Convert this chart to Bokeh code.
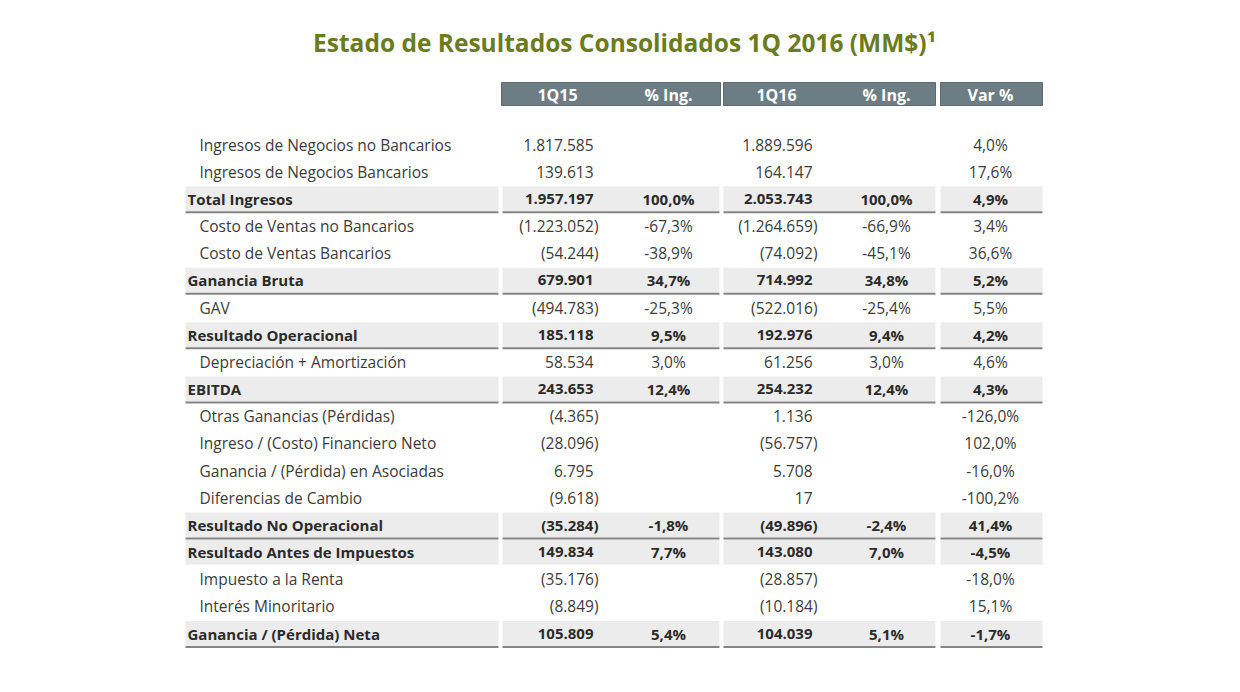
from bokeh.plotting import figure
from bokeh.models import Range1d
from bokeh.embed import file_html
from bokeh.resources import INLINE
from bokeh.core.properties import value

# ---------------- data ----------------
title = "Estado de Resultados Consolidados 1Q 2016 (MM$)¹"
headers = ["1Q15", "% Ing.", "1Q16", "% Ing.", "Var %"]

labels = [
    "Ingresos de Negocios no Bancarios",
    "Ingresos de Negocios Bancarios",
    "Total Ingresos",
    "Costo de Ventas no Bancarios",
    "Costo de Ventas Bancarios",
    "Ganancia Bruta",
    "GAV",
    "Resultado Operacional",
    "Depreciación + Amortización",
    "EBITDA",
    "Otras Ganancias (Pérdidas)",
    "Ingreso / (Costo) Financiero Neto",
    "Ganancia / (Pérdida) en Asociadas",
    "Diferencias de Cambio",
    "Resultado No Operacional",
    "Resultado Antes de Impuestos",
    "Impuesto a la Renta",
    "Interés Minoritario",
    "Ganancia / (Pérdida) Neta",
]
q15 = ["1.817.585", "139.613", "1.957.197", "(1.223.052)", "(54.244)", "679.901",
       "(494.783)", "185.118", "58.534", "243.653", "(4.365)", "(28.096)", "6.795",
       "(9.618)", "(35.284)", "149.834", "(35.176)", "(8.849)", "105.809"]
q15_pct = ["", "", "100,0%", "-67,3%", "-38,9%", "34,7%", "-25,3%", "9,5%", "3,0%",
           "12,4%", "", "", "", "", "-1,8%", "7,7%", "", "", "5,4%"]
q16 = ["1.889.596", "164.147", "2.053.743", "(1.264.659)", "(74.092)", "714.992",
       "(522.016)", "192.976", "61.256", "254.232", "1.136", "(56.757)", "5.708",
       "17", "(49.896)", "143.080", "(28.857)", "(10.184)", "104.039"]
q16_pct = ["", "", "100,0%", "-66,9%", "-45,1%", "34,8%", "-25,4%", "9,4%", "3,0%",
           "12,4%", "", "", "", "", "-2,4%", "7,0%", "", "", "5,1%"]
var_pct = ["4,0%", "17,6%", "4,9%", "3,4%", "36,6%", "5,2%", "5,5%", "4,2%", "4,6%",
           "4,3%", "-126,0%", "102,0%", "-16,0%", "-100,2%", "41,4%", "-4,5%",
           "-18,0%", "15,1%", "-1,7%"]
subtotal_rows = [2, 5, 7, 9, 14, 15, 18]
underlined_rows = [2, 5, 7, 9, 14, 18]

# ---------------- layout ----------------
FONT = value("Open Sans")
W, H = 1224, 676
p = figure(width=W, height=H, x_range=Range1d(0, W), y_range=Range1d(H, 0),
           output_backend="svg", toolbar_location=None, min_border=0)
p.xaxis.visible = False
p.yaxis.visible = False
p.xgrid.visible = False
p.ygrid.visible = False
p.outline_line_color = None
p.background_fill_color = "white"

row0, step = 144.0, 27.17
n = len(labels)
ys = [row0 + i * step for i in range(n)]

seg_l = [185, 502, 723, 940]
seg_r = [498, 719, 935, 1042]

# title
p.text(x=[624], y=[42], text=[title], text_align="center", text_baseline="middle",
       text_font=FONT, text_font_size="24.5px", text_font_style="bold",
       text_color="#6b7c1e")

# header bars
hb_l = [501, 723, 940]
hb_r = [720, 935, 1042]
p.quad(left=hb_l, right=hb_r, top=[82] * 3, bottom=[105] * 3,
       fill_color="#6d7d84", line_color="#5d6b71", line_width=1)
hx = [557, 668, 776, 886, 990]
p.text(x=hx, y=[94] * 5, text=headers, text_align="center", text_baseline="middle",
       text_font=FONT, text_font_size="16px", text_font_style="bold",
       text_color="white")

# subtotal backgrounds
bl, br, bt, bb = [], [], [], []
for i in subtotal_rows:
    for l, r in zip(seg_l, seg_r):
        bl.append(l); br.append(r); bt.append(ys[i] - 12.5); bb.append(ys[i] + 12.5)
p.quad(left=bl, right=br, top=bt, bottom=bb, fill_color="#ececec", line_color=None)

# underlines
x0, x1, yl = [], [], []
for i in underlined_rows:
    for l, r in zip(seg_l, seg_r):
        x0.append(l); x1.append(r); yl.append(ys[i] + 13.5)
p.segment(x0=x0, y0=yl, x1=x1, y1=yl, line_color="#858585", line_width=2)


def num_x(s, base):
    return base + 5 if s.endswith(")") else base


def draw_rows(idx, bold):
    style = "bold" if bold else "normal"
    color = "#2b2b2b" if bold else "#3c3c3c"
    size = "15px" if bold else "15.5px"
    lab_x = 187 if bold else 199
    ry = [ys[i] for i in idx]
    p.text(x=[lab_x] * len(idx), y=ry, text=[labels[i] for i in idx],
           text_align="left", text_baseline="middle", text_font=FONT,
           text_font_size=size, text_font_style=style, text_color=color)
    for col, base in ((q15, 593), (q16, 812)):
        p.text(x=[num_x(col[i], base) for i in idx], y=ry, text=[col[i] for i in idx],
               text_align="right", text_baseline="middle", text_font=FONT,
               text_font_size=size, text_font_style=style, text_color=color)
    for col, cx in ((q15_pct, 668), (q16_pct, 886), (var_pct, 990)):
        p.text(x=[cx] * len(idx), y=ry, text=[col[i] for i in idx],
               text_align="center", text_baseline="middle", text_font=FONT,
               text_font_size=size, text_font_style=style, text_color=color)


normal_rows = [i for i in range(n) if i not in subtotal_rows]
draw_rows(normal_rows, False)
draw_rows(subtotal_rows, True)

open("out.html", "w").write(file_html(p, INLINE))
